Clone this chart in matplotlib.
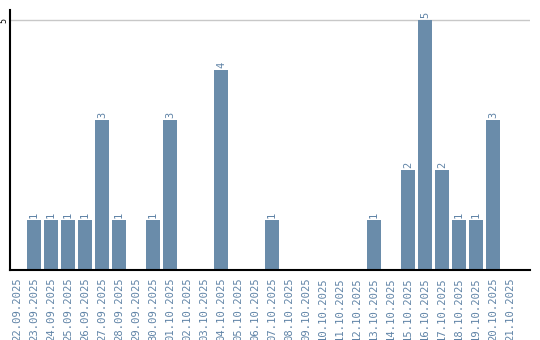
import matplotlib
matplotlib.use('Agg')
import matplotlib.pyplot as plt
import numpy as np

# Dates and counts
dates = ['22.09.2025', '23.09.2025', '24.09.2025', '25.09.2025', '26.09.2025',
         '27.09.2025', '28.09.2025', '29.09.2025', '30.09.2025', '01.10.2025',
         '02.10.2025', '03.10.2025', '04.10.2025', '05.10.2025', '06.10.2025',
         '07.10.2025', '08.10.2025', '09.10.2025', '10.10.2025', '11.10.2025',
         '12.10.2025', '13.10.2025', '14.10.2025', '15.10.2025', '16.10.2025',
         '17.10.2025', '18.10.2025', '19.10.2025', '20.10.2025', '21.10.2025']
counts = [0, 1, 1, 1, 1, 3, 1, 0, 1, 3,
          0, 0, 4, 0, 0, 1, 0, 0, 0, 0,
          0, 1, 0, 2, 5, 2, 1, 1, 3, 0]

bar_color = '#6a8caa'
label_color = '#5f83a6'

fig = plt.figure(figsize=(5.4, 3.4), dpi=100)
ax = fig.add_axes([10/540, 70/340, 520/540, 260/340])

x = np.arange(len(dates))
ax.bar(x, counts, width=0.82, color=bar_color, zorder=2)

for xi, c in zip(x, counts):
    if c > 0:
        ax.text(xi, c + 0.05, str(c), rotation=90, ha='center', va='bottom',
                color=label_color, fontsize=7.5, family='DejaVu Sans Mono')

ax.set_xlim(-0.41, 30.18)
ax.set_ylim(0, 5.2)
ax.set_yticks([5])
ax.set_yticklabels(['5'], rotation=90, fontsize=6, family='DejaVu Sans Mono', va='center')
ax.tick_params(axis='y', length=0, pad=1)
ax.yaxis.grid(True, color='#c8c8c8', linewidth=1, zorder=0)

ax.set_xticks(x)
ax.set_xticklabels(dates, rotation=90, fontsize=7.6, family='DejaVu Sans Mono',
                   color=label_color)
ax.tick_params(axis='x', length=0, pad=5)

for s in ['top', 'right']:
    ax.spines[s].set_visible(False)
for s in ['left', 'bottom']:
    ax.spines[s].set_linewidth(1.5)
    ax.spines[s].set_color('black')

plt.savefig('out.png', dpi=100)
